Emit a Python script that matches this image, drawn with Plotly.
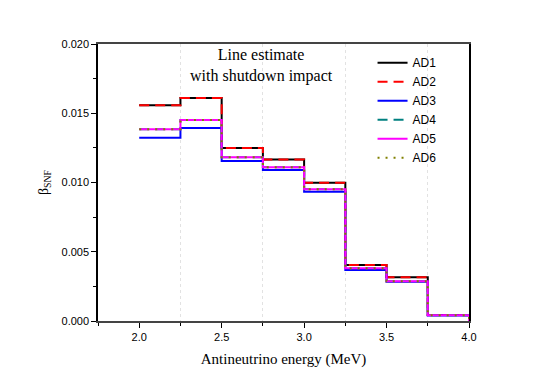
import plotly.graph_objects as go

# bin edges (MeV) and beta_SNF per bin for each detector
edges = [2.0, 2.25, 2.5, 2.75, 3.0, 3.25, 3.5, 3.75, 4.0]
ad1 = [0.01557, 0.01610, 0.01249, 0.01166, 0.00998, 0.00404, 0.00315, 0.00043]
ad2 = [0.01557, 0.01610, 0.01249, 0.01166, 0.00998, 0.00404, 0.00315, 0.00043]
ad3 = [0.01324, 0.01394, 0.01156, 0.01090, 0.00934, 0.00368, 0.00284, 0.00040]
ad4 = [0.01384, 0.01451, 0.01182, 0.01110, 0.00951, 0.00380, 0.00287, 0.00041]
ad5 = [0.01384, 0.01451, 0.01182, 0.01110, 0.00951, 0.00380, 0.00287, 0.00041]
ad6 = [0.01384, 0.01451, 0.01182, 0.01110, 0.00951, 0.00380, 0.00287, 0.00041]

series = [
    ("AD1", ad1, "black", "solid"),
    ("AD2", ad2, "red", "10px,6px"),
    ("AD3", ad3, "blue", "solid"),
    ("AD4", ad4, "#008080", "10px,6px"),
    ("AD5", ad5, "magenta", "solid"),
    ("AD6", ad6, "#808000", "2px,6px"),
]

fig = go.Figure()
for name, vals, color, dash in series:
    # step histogram: repeat last value to close bin, then drop to zero
    xs = edges + [edges[-1]]
    ys = vals + [vals[-1], 0]
    fig.add_trace(go.Scatter(x=xs, y=ys, mode="lines", name=name,
                             line=dict(color=color, width=2, dash=dash, shape="hv")))

fig.add_annotation(x=0.442, y=1.0, xref="paper", yref="paper",
                   xanchor="center", yanchor="top",
                   text="Line estimate<br>with shutdown impact", showarrow=False,
                   font=dict(family="Liberation Serif", size=16, color="black"))

# page body has an 8px margin, so the figure is 8px smaller and shifted
fig.update_layout(
    width=537, height=377,
    margin=dict(l=90, r=76, t=36, b=64),
    plot_bgcolor="white", paper_bgcolor="white",
    font=dict(family="Liberation Sans", size=11, color="black"),
    legend=dict(x=0.74, y=0.985, xanchor="left", yanchor="top",
                bgcolor="rgba(0,0,0,0)", font=dict(size=12)),
    showlegend=True,
)
fig.update_xaxes(range=[1.75, 4.0], dtick=0.5, tick0=0, tickformat=".1f",
                 ticks="outside", ticklen=5, tickcolor="black",
                 showline=True, linecolor="#444", linewidth=1.5, mirror=True,
                 showgrid=False, zeroline=False,
                 minor=dict(dtick=0.25, ticks="outside", ticklen=3, tickcolor="black",
                            showgrid=True, gridcolor="#e2e2e2", gridwidth=1, griddash="dot"),
                 title=dict(text="Antineutrino energy (MeV)", standoff=12,
                            font=dict(family="Liberation Serif", size=15)))
fig.update_yaxes(range=[0, 0.020], dtick=0.005, tickformat=".3f",
                 ticks="outside", ticklen=5, tickcolor="black",
                 showline=True, linecolor="black", linewidth=1.5, mirror=True,
                 showgrid=False, zeroline=False,
                 minor=dict(dtick=0.0025, ticks="outside", ticklen=3, tickcolor="black"),
                 title=dict(text="β<sub>SNF</sub>", standoff=10,
                            font=dict(family="Liberation Serif", size=14)))

fig.write_html("out.html")
